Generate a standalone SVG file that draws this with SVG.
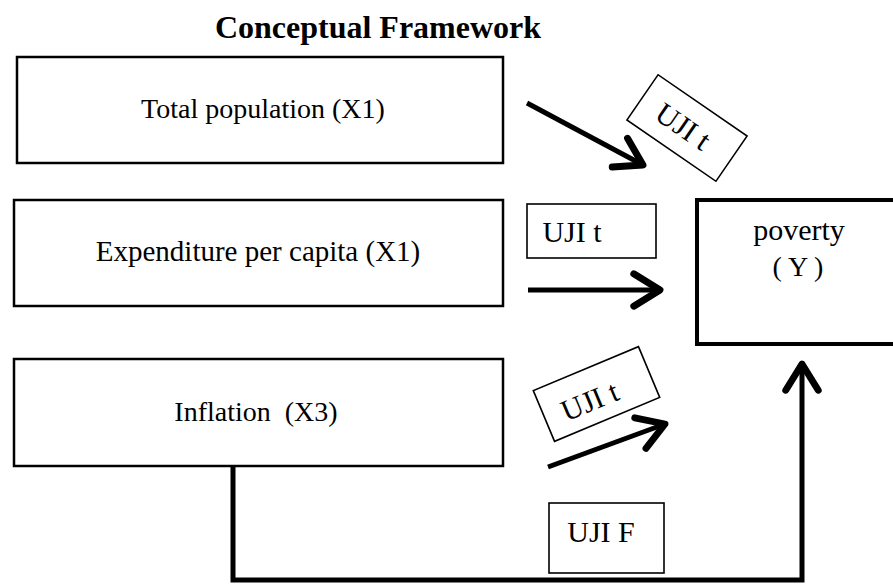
<svg xmlns="http://www.w3.org/2000/svg" width="893" height="585" viewBox="0 0 893 585">
<style>
text{font-family:"Liberation Serif","Times New Roman",serif;fill:#000;}
.t{font-size:28px;text-anchor:middle;white-space:pre;}
.u{font-size:30px;text-anchor:middle;}
.title{font-size:32px;font-weight:bold;text-anchor:middle;}
.box{fill:#fff;stroke:#000;stroke-width:2.5;}
.ybox{fill:#fff;stroke:#000;stroke-width:4;}
.ub{fill:#fff;stroke:#000;stroke-width:1.6;}
.ar{fill:none;stroke:#000;stroke-width:5;stroke-linejoin:miter;}
</style>
<defs>
<marker id="ah" markerUnits="strokeWidth" markerWidth="10" markerHeight="10" refX="0" refY="0" orient="auto" overflow="visible" viewBox="-6 -4 8 8">
<path d="M-4.2,-2.6 L0,0 L-4.2,2.6" fill="none" stroke="#000" stroke-width="1.1" stroke-linecap="round" stroke-linejoin="round"/>
</marker>
</defs>
<rect width="893" height="585" fill="#fff"/>
<text class="title" x="378" y="38">Conceptual Framework</text>
<g id="x1">
<rect class="box" x="17" y="57" width="486" height="106"/>
<text class="t" x="263" y="118">Total population (X1)</text>
</g>
<g id="x2">
<rect class="box" x="14" y="200" width="489" height="106"/>
<text class="t" x="258" y="261" style="font-size:29px">Expenditure per capita (X1)</text>
</g>
<g id="x3">
<rect class="box" x="14" y="359" width="489" height="107"/>
<text class="t" x="256" y="421">Inflation  (X3)</text>
</g>
<g id="y">
<rect class="ybox" x="697" y="200" width="210" height="144"/>
<text class="t" x="799" y="240" style="font-size:30px">poverty</text>
<text class="t" x="798" y="276">( Y )</text>
</g>
<g id="uji1" transform="translate(687,128) rotate(34.5)">
<rect class="ub" x="-54" y="-27.5" width="108" height="55"/>
<text class="u" x="-4" y="11">UJI t</text>
</g>
<g id="uji2">
<rect class="ub" x="527" y="204" width="129" height="54"/>
<text class="u" x="572" y="242">UJI t</text>
</g>
<g id="uji3" transform="translate(596.5,394) rotate(-22.7)">
<rect class="ub" x="-57" y="-27.5" width="114" height="55"/>
<text class="u" x="-9" y="14">UJI t</text>
</g>
<g id="ujiF">
<rect class="ub" x="549" y="503" width="115" height="70"/>
<text class="u" x="601" y="542">UJI F</text>
</g>
<g id="connectors">
<line class="ar" x1="527" y1="103" x2="643" y2="165" marker-end="url(#ah)"/>
<line class="ar" x1="528" y1="290" x2="660" y2="290" marker-end="url(#ah)"/>
<line class="ar" x1="548" y1="467" x2="665" y2="424" marker-end="url(#ah)"/>
<path class="ar" d="M233,466 V580 H802 V364" marker-end="url(#ah)"/>
</g>
</svg>
